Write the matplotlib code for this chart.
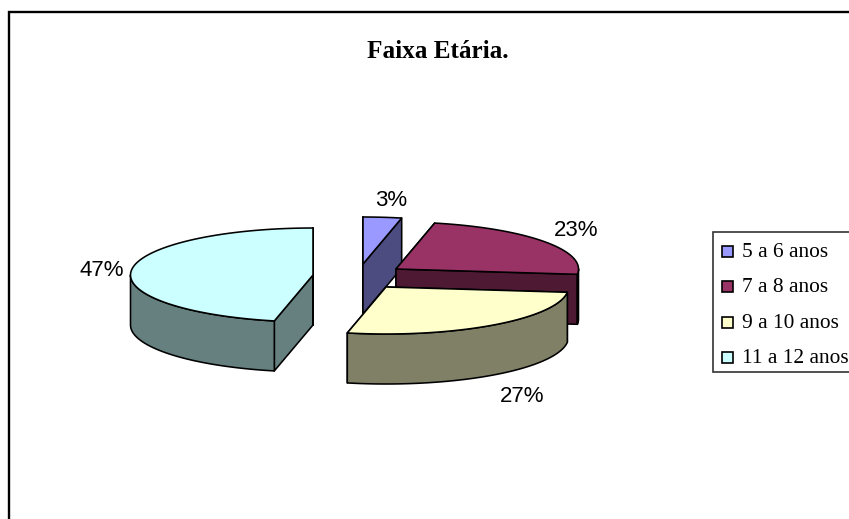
import numpy as np
import matplotlib
matplotlib.use("Agg")
import matplotlib.pyplot as plt
from matplotlib.patches import Polygon, Rectangle

# --- data ---
categories = ["5 a 6 anos", "7 a 8 anos", "9 a 10 anos", "11 a 12 anos"]
shares = [3.4, 23.4, 26.6, 46.6]
title = "Faixa Etária."

# --- style ---
top_colors = ["#9999FF", "#993366", "#FFFFCC", "#CCFFFF"]
side_colors = ["#4C4C80", "#4D1933", "#808066", "#668080"]
apexes = [(363, 264), (396, 269), (386, 287), (313, 275)]
label_pos = [(391, 200), (576, 231), (522, 397), (102, 270)]
draw_order = [0, 1, 3, 2]
RX, RY, DEPTH = 182.5, 47, 50
LW = 1.15

fig = plt.figure(figsize=(8.49, 5.19), dpi=100)
ax = fig.add_axes([0, 0, 1, 1])
ax.set_xlim(0, 849)
ax.set_ylim(519, 0)
ax.axis("off")

# chart frame (cut by the image on the right and bottom)
ax.plot([9.5, 9.5, 849], [519, 11.5, 11.5], color="black", lw=1.7, solid_joinstyle="miter")


def rim(apex, a0, a1, n=80):
    t = np.radians(np.linspace(a0, a1, n))
    return np.column_stack([apex[0] + RX * np.sin(t), apex[1] - RY * np.cos(t)])


def face(pts, color, z):
    ax.add_patch(Polygon(pts, closed=True, facecolor=color, edgecolor="black",
                         lw=LW, joinstyle="round", zorder=z))


edges = np.concatenate([[0], np.cumsum(shares)]) * 3.6
z = 2
for i in draw_order:
    a0, a1 = edges[i], edges[i + 1]
    apex = np.array(apexes[i], float)
    down = np.array([0, DEPTH])
    # radial cut faces
    for a in (a0, a1):
        p = rim(apex, a, a, 1)[0]
        face([apex, p, p + down, apex + down], side_colors[i], z)
        z += 1
    # outer wall, front half only
    w0, w1 = max(a0, 90), min(a1, 270)
    if w1 > w0:
        arc = rim(apex, w0, w1)
        face(np.vstack([arc, (arc + down)[::-1]]), side_colors[i], z)
        z += 1
    # top face
    face(np.vstack([[apex], rim(apex, a0, a1)]), top_colors[i], z)
    z += 1

# percentage labels
for s, (x, y) in zip(shares, label_pos):
    ax.text(x, y, f"{round(s)}%", family="Liberation Sans", fontsize=16,
            ha="center", va="center", color="black", zorder=50)

# title
ax.text(437.5, 51, title, family="Liberation Serif", weight="bold", fontsize=18.2,
        ha="center", va="center", color="black", zorder=50)

# legend
ax.add_patch(Rectangle((713.5, 232), 140, 140, facecolor="white", edgecolor="#333333", lw=1.2, zorder=40))
for name, col, y in zip(categories, top_colors, [251, 286, 322, 357]):
    ax.add_patch(Rectangle((722.5, y - 5.5), 11, 11, facecolor=col, edgecolor="black", lw=1.2, zorder=41))
    ax.text(742, y + 1.5, name, family="Liberation Serif", fontsize=15.4,
            ha="left", va="center", color="black", zorder=42)

fig.savefig("out.png", dpi=100)
